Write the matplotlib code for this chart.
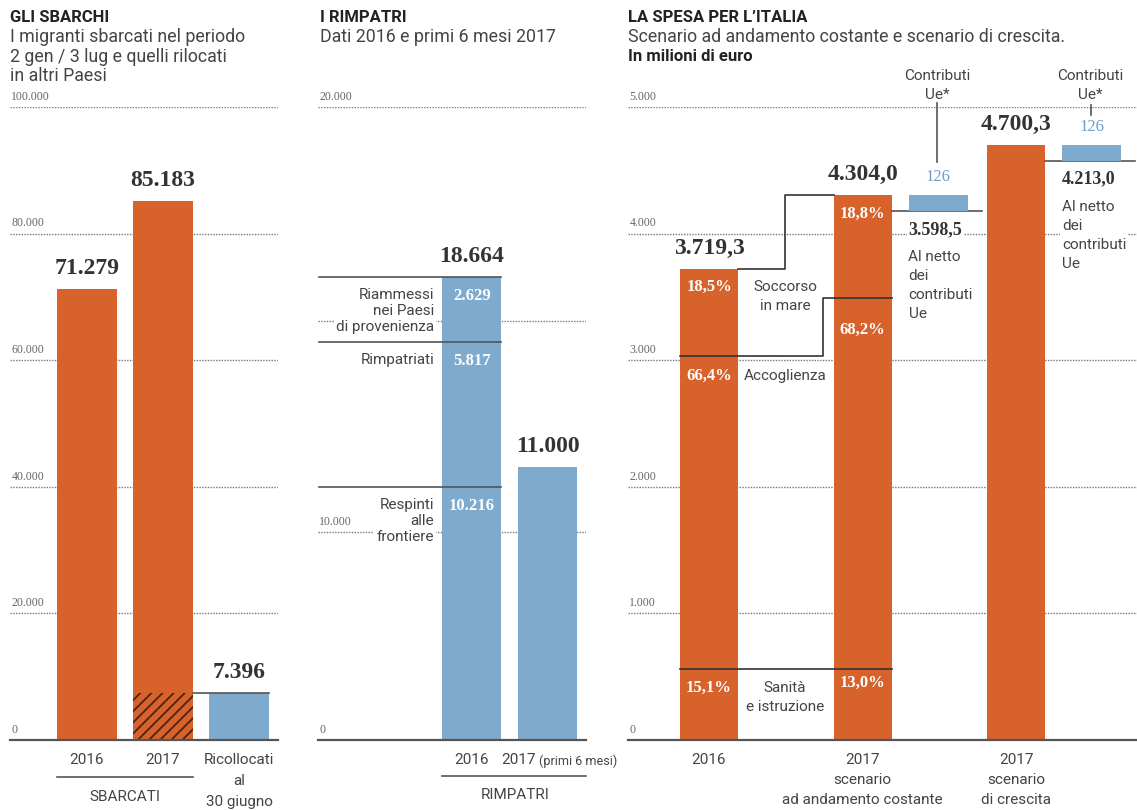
import matplotlib
matplotlib.use("Agg")
import matplotlib.pyplot as plt

# --- data -------------------------------------------------------------
sbarchi_labels = ["2016", "2017"]
sbarchi_values = [71279, 85183]
ricollocati = 7396
sbarchi_ticks = [0, 20000, 40000, 60000, 80000, 100000]
sbarchi_ticklabels = ["0", "20.000", "40.000", "60.000", "80.000", "100.000"]

rimpatri_2016_parts = [10216, 5817, 2629]  # respinti, rimpatriati, riammessi
rimpatri_2016_names = ["Respinti\nalle\nfrontiere", "Rimpatriati", "Riammessi\nnei Paesi\ndi provenienza"]
rimpatri_2016_total = 18664
rimpatri_2017 = 11000
# the original grid is not drawn to the bars' scale; positions
rimpatri_grid = [8380, 16890, 25510]
rimpatri_gridlabels = ["10.000", "", "20.000"]

spesa_labels = ["2016", "2017\nscenario\nad andamento costante", "2017\nscenario\ndi crescita"]
spesa_totals = [3719.3, 4304.0, 4700.3]
spesa_total_txt = ["3.719,3", "4.304,0", "4.700,3"]
spesa_sanita = [15.1, 13.0]
spesa_accoglienza = [66.4, 68.2]
spesa_soccorso = [18.5, 18.8]
contributi_ue = [126, 126]
netto = ["3.598,5", "4.213,0"]
spesa_ticks = [0, 1000, 2000, 3000, 4000, 5000]
spesa_ticklabels = ["0", "1.000", "2.000", "3.000", "4.000", "5.000"]

# --- style -------------------------------------------------------------
ORANGE = "#d8622c"
BLUE = "#7eaacd"
BLUE_TXT = "#6f9fc8"
GREY = "#444444"
LINE = "#555555"
SANS = ["Roboto", "DejaVu Sans"]
SERIF = ["Liberation Serif", "DejaVu Serif"]
plt.rcParams["font.family"] = SANS
plt.rcParams["hatch.linewidth"] = 1.3

W, H = 1137, 810
fig = plt.figure(figsize=(W / 100, H / 100), dpi=100)

BASE, TOP = 740, 107


def make_ax(x0, x1):
    return fig.add_axes([x0 / W, (H - BASE) / H, (x1 - x0) / W, (BASE - TOP) / H])


def yf(py):
    # pixel row -> axes fraction
    return (BASE - py) / (BASE - TOP)


def clean(ax):
    for s in ax.spines.values():
        s.set_visible(False)
    ax.set_xticks([])
    ax.set_yticks([])
    ax.patch.set_alpha(0)


def grid(ax, ticks, labels, x0=0.0, x1=1.0):
    for v, lab in zip(ticks, labels):
        if v == 0:
            ax.axhline(0, x0, x1, color=LINE, lw=1.6, zorder=4, clip_on=False)
        else:
            ax.axhline(v, x0, x1, color="#777777", lw=1.0, ls=(0, (1, 1)), zorder=0)
        if lab:
            ax.annotate(lab, (0, v), xycoords=("axes fraction", "data"), xytext=(1, 3),
                        textcoords="offset points", va="bottom", ha="left",
                        fontsize=8.5, color="#666666", family=SERIF)


def value_label(ax, x, y, txt, size=17, color="#333333", weight="bold"):
    ax.annotate(txt, (x, y), xytext=(0, 7), textcoords="offset points", ha="center",
                va="bottom", fontsize=size, fontweight=weight, color=color, family=SERIF)


def under(ax, x, py, txt, **kw):
    kw.setdefault("fontsize", 11)
    kw.setdefault("color", GREY)
    kw.setdefault("ha", "center")
    ax.text(x, yf(py), txt, transform=ax.get_xaxis_transform(), va="center", clip_on=False, **kw)


# --- titles -------------------------------------------------------------
def title(px, lines):
    py = 17
    for i, (txt, bold) in enumerate(lines):
        fig.text(px / W, 1 - py / H, txt, fontsize=12.8 if not bold else 12,
                 fontweight="bold" if bold else "normal", color="#222222" if bold else GREY,
                 va="center", ha="left")
        py += 20 if i == 0 else 19.5


title(10, [("GLI SBARCHI", True), ("I migranti sbarcati nel periodo", False),
           ("2 gen / 3 lug e quelli rilocati", False), ("in altri Paesi", False)])
title(320, [("I RIMPATRI", True), ("Dati 2016 e primi 6 mesi 2017", False)])
title(628, [("LA SPESA PER L\u2019ITALIA", True),
            ("Scenario ad andamento costante e scenario di crescita.", False),
            ("In milioni di euro", True)])

# --- panel 1: sbarchi ----------------------------------------------------
ax1 = make_ax(10, 278)
clean(ax1)
ax1.set_ylim(0, 100000)
ax1.set_xlim(-(87 - 10) / 76, (278 - 87) / 76)
grid(ax1, sbarchi_ticks, sbarchi_ticklabels)
bw1 = 60 / 76
x1 = list(range(len(sbarchi_values)))
ax1.bar(x1, sbarchi_values, width=bw1, color=ORANGE, zorder=2)
ax1.bar([1], [ricollocati], width=bw1, color=ORANGE, edgecolor="#4a2412", lw=0,
        hatch="///", zorder=3)
ax1.bar([2], [ricollocati], width=bw1, color=BLUE, zorder=2)
ax1.plot([1 + bw1 / 2, 2 + bw1 / 2], [ricollocati, ricollocati], color=LINE, lw=1.2, zorder=4)
for x, v in zip(x1, sbarchi_values):
    value_label(ax1, x, v, f"{v:,}".replace(",", "."))
value_label(ax1, 2, ricollocati, f"{ricollocati:,}".replace(",", "."))
for x, lab in zip(x1, sbarchi_labels):
    under(ax1, x, 760, lab)
under(ax1, 2, 760, "Ricollocati")
under(ax1, 2, 781, "al")
under(ax1, 2, 802, "30 giugno")
ax1.plot([-bw1 / 2, 1 + bw1 / 2], [yf(777)] * 2, transform=ax1.get_xaxis_transform(),
         color=LINE, lw=1.2, clip_on=False)
under(ax1, 0.5, 797, "SBARCATI")

# --- panel 2: rimpatri ----------------------------------------------------
ax2 = make_ax(318, 586)
clean(ax2)
ax2.set_ylim(0, 25510)
ax2.set_xlim(-(472 - 318) / 76, (586 - 472) / 76)
grid(ax2, [0] + rimpatri_grid, ["0"] + rimpatri_gridlabels)
bw2 = 59 / 76
ax2.bar([0], [rimpatri_2016_total], width=bw2, color=BLUE, zorder=2)
ax2.bar([1], [rimpatri_2017], width=bw2, color=BLUE, zorder=2)
value_label(ax2, 0, rimpatri_2016_total, f"{rimpatri_2016_total:,}".replace(",", "."))
value_label(ax2, 1, rimpatri_2017, f"{rimpatri_2017:,}".replace(",", "."))
xl2 = -(472 - 319) / 76
bottom = 0
for part, name in zip(rimpatri_2016_parts, rimpatri_2016_names):
    top = bottom + part
    ax2.plot([xl2, bw2 / 2], [top, top], color=LINE, lw=1.2, zorder=4)
    ax2.annotate(name, (-bw2 / 2, top), xytext=(-6, -8), textcoords="offset points",
                 ha="right", va="top", fontsize=11, color=GREY, linespacing=1.2, zorder=3,
                 multialignment="right",
                 bbox=dict(boxstyle="square,pad=0.15", fc="white", ec="none"))
    ax2.annotate(f"{part:,}".replace(",", "."), (0, top), xytext=(0, -8),
                 textcoords="offset points", ha="center", va="top", fontsize=12,
                 fontweight="bold", color="white", family=SERIF, zorder=5)
    bottom = top
under(ax2, 0, 760, "2016")
under(ax2, (536 - 472) / 76, 760, "2017", ha="right")
under(ax2, (539 - 472) / 76, 761, "(primi 6 mesi)", ha="left", fontsize=9)
ax2.plot([-bw2 / 2, (586 - 472) / 76], [yf(776)] * 2, transform=ax2.get_xaxis_transform(),
         color=LINE, lw=1.2, clip_on=False)
under(ax2, (515 - 472) / 76, 795, "RIMPATRI")

# --- panel 3: spesa ------------------------------------------------------
ax3 = make_ax(628, 1137)
clean(ax3)
ax3.set_ylim(0, 5000)
U = 153.5
ax3.set_xlim(-(709 - 628) / U, (1137 - 709) / U)
grid(ax3, spesa_ticks, spesa_ticklabels)
bw3 = 58 / U
x3 = list(range(len(spesa_totals)))
ax3.bar(x3, spesa_totals, width=bw3, color=ORANGE, zorder=2)
for x, v, t in zip(x3, spesa_totals, spesa_total_txt):
    value_label(ax3, x, v, t)

# segment boundaries (share of the total)
san = [spesa_totals[i] * spesa_sanita[i] / 100 for i in range(2)]
acc = [spesa_totals[i] * (1 - spesa_soccorso[i] / 100) for i in range(2)]
xs = (785 - 709) / U
xa = (823 - 709) / U
ax3.plot([-bw3 / 2, xs, xs, 1 + bw3 / 2], [san[0], san[0], san[1], san[1]], color="#333333", lw=1.2, zorder=4)
ax3.plot([-bw3 / 2, xa, xa, 1 + bw3 / 2], [acc[0], acc[0], acc[1], acc[1]], color="#333333", lw=1.2, zorder=4)
ax3.plot([bw3 / 2, xs, xs, 1 - bw3 / 2], [spesa_totals[0], spesa_totals[0], spesa_totals[1], spesa_totals[1]],
         color="#333333", lw=1.2, zorder=4)

pct_y = {0: [688, 376, 287], 1: [683, 330, 214]}
for i in range(2):
    for py, p in zip(pct_y[i], [spesa_sanita[i], spesa_accoglienza[i], spesa_soccorso[i]]):
        under(ax3, i, py, f"{p:.1f}%".replace(".", ","), fontsize=12, fontweight="bold",
              color="white", family=SERIF)
under(ax3, xs, 287, "Soccorso", zorder=5)
under(ax3, xs, 306, "in mare")
under(ax3, (744 - 709) / U, 376, "Accoglienza", ha="left",
      bbox=dict(boxstyle="square,pad=0.1", fc="white", ec="none"))
under(ax3, xs, 688, "Sanità")
under(ax3, xs, 707, "e istruzione")

# EU contributions and net values
xb = [1 + 75.5 / U, 2 + 75.5 / U]
for j, i in enumerate([1, 2]):
    top = spesa_totals[i]
    low = top - contributi_ue[j]
    ax3.bar([xb[j]], [contributi_ue[j]], bottom=[low], width=59 / U, color=BLUE, zorder=3)
    xend = (982 - 709) / U if j == 0 else (1135 - 709) / U
    ax3.plot([i + bw3 / 2, xend], [low, low], color=LINE, lw=1.2, zorder=2)
    value_label(ax3, xb[j], top, str(contributi_ue[j]), size=12, color=BLUE_TXT, weight="normal")
    xt = i + bw3 / 2 + (910 - 893) / U
    ax3.annotate(netto[j], (xt, low), xytext=(0, -7), textcoords="offset points",
                 ha="left", va="top", fontsize=13, fontweight="bold", color="#333333",
                 family=SERIF, bbox=dict(boxstyle="square,pad=0.1", fc="white", ec="none"))
    ax3.annotate("Al netto\ndei\ncontributi\nUe", (xt, low), xytext=(0, -28),
                 textcoords="offset points", ha="left", va="top", fontsize=11, color=GREY,
                 linespacing=1.45, bbox=dict(boxstyle="square,pad=0.1", fc="white", ec="none"))
    under(ax3, xb[j] - 1 / U, 76, "Contributi")
    under(ax3, xb[j] - 1 / U, 95, "Ue*")
ax3.plot([xb[0] - 1 / U] * 2, [yf(103), yf(162)], transform=ax3.get_xaxis_transform(),
         color=LINE, lw=1.2, clip_on=False)
ax3.plot([xb[1] - 1 / U] * 2, [yf(105), yf(115)], transform=ax3.get_xaxis_transform(),
         color=LINE, lw=1.2, clip_on=False)

for x, lab in zip(x3, spesa_labels):
    for k, line in enumerate(lab.split("\n")):
        under(ax3, x, 760 + 20 * k, line)

fig.savefig("out.png", dpi=100)
